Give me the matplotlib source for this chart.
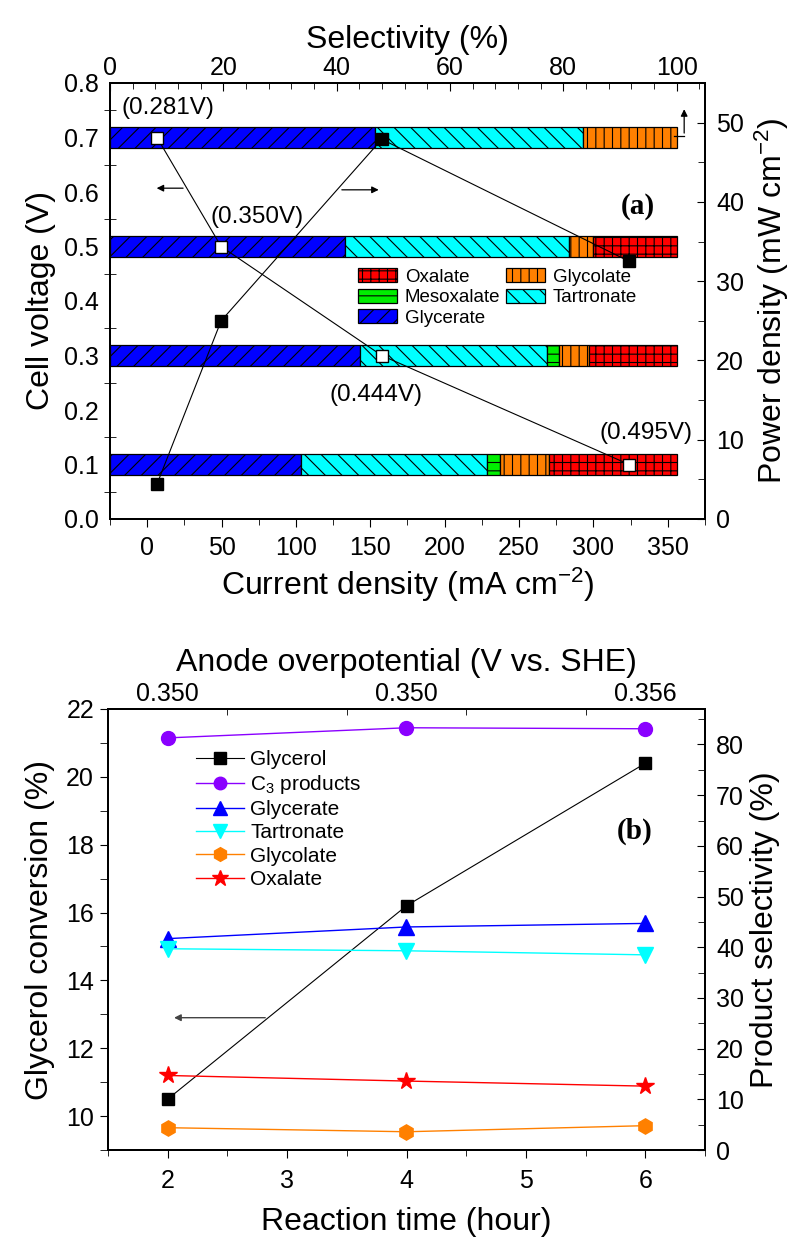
import matplotlib
matplotlib.use('Agg')
import matplotlib.pyplot as plt
import numpy as np
from matplotlib.ticker import MultipleLocator, FixedLocator
from matplotlib.lines import Line2D

plt.rcParams['font.family'] = ['Liberation Sans', 'DejaVu Sans']
plt.rcParams['mathtext.fontset'] = 'custom'
plt.rcParams['mathtext.rm'] = 'Liberation Sans'
plt.rcParams['mathtext.it'] = 'Liberation Sans:italic'
plt.rcParams['hatch.linewidth'] = 0.8
plt.rcParams['axes.linewidth'] = 1.3

# ---------------- panel (a) data ----------------
cell_voltage = [0.7, 0.5, 0.3, 0.1]
current_density = [6.6, 49.7, 157.7, 324]
power_density = [4.4, 25.0, 47.9, 32.5]
anode_potential = ['(0.281V)', '(0.350V)', '(0.444V)', '(0.495V)']

# selectivity (%) of each product at each cell voltage
sel_glycerate = [46.7, 41.4, 44.1, 33.7]
sel_tartronate = [36.8, 39.6, 33.1, 32.8]
sel_mesoxalate = [0.0, 0.0, 2.0, 2.4]
sel_glycolate = [16.5, 4.3, 5.3, 8.6]
sel_oxalate = [0.0, 14.7, 15.5, 22.5]

# ---------------- panel (b) data ----------------
reaction_time = [2, 4, 6]
overpotential_labels = ['0.350', '0.350', '0.356']
glycerol_conv = [10.5, 16.2, 20.4]
c3_products = [81.3, 83.3, 83.1]
glycerate = [41.7, 44.0, 44.7]
tartronate = [39.7, 39.3, 38.5]
glycolate = [4.4, 3.6, 4.8]
oxalate = [14.7, 13.6, 12.6]

fig = plt.figure(figsize=(7.98, 12.41), dpi=100)
W, H = 798.0, 1241.0

TICK = 18
LABEL = 23

# ================= panel (a) =================
ax1 = fig.add_axes([110 / W, 1 - 519 / H, 595 / W, 436 / H])
ax_sel = ax1.twiny()
ax_pow = ax1.twinx()
ax_sel.set_zorder(0)
ax1.set_zorder(1)
ax_pow.set_zorder(2)
ax1.patch.set_visible(False)

# stacked selectivity bars
segments = [
    ('Glycerate', sel_glycerate, '#0000ff', '//'),
    ('Tartronate', sel_tartronate, '#00ffff', '\\\\'),
    ('Mesoxalate', sel_mesoxalate, '#00ee00', '--'),
    ('Glycolate', sel_glycolate, '#ff8000', '||'),
    ('Oxalate', sel_oxalate, '#ff0000', '++'),
]
left = np.zeros(len(cell_voltage))
bar_handles = {}
for name, vals, col, hat in segments:
    vals = np.array(vals)
    keep = vals > 0
    b = ax_sel.barh(np.array(cell_voltage)[keep], vals[keep], left=left[keep],
                    height=0.04, color=col, edgecolor='black', hatch=hat,
                    linewidth=0.9, label=name)
    bar_handles[name] = b
    left = left + vals
ax_sel.set_xlim(0, 105)
ax_sel.set_xticks(range(0, 101, 20))
ax_sel.xaxis.set_minor_locator(MultipleLocator(4))
ax_sel.set_xlabel('Selectivity (%)', fontsize=LABEL, labelpad=6)
ax_sel.tick_params(axis='x', which='both', direction='in', labelsize=TICK, pad=2)
ax_sel.tick_params(axis='x', which='major', length=6)
ax_sel.tick_params(axis='x', which='minor', length=4)

# cell voltage vs current density
ax1.plot(current_density, cell_voltage, color='black', lw=0.8, marker='s', ms=8,
         mfc='white', mec='black', mew=1.0, zorder=5)
ax1.set_xlim(-25, 375)
ax1.set_ylim(0, 0.8)
ax1.set_xticks(range(0, 351, 50))
ax1.xaxis.set_minor_locator(MultipleLocator(25))
ax1.set_yticks(np.arange(0, 0.81, 0.1))
ax1.set_yticklabels(['%.1f' % v for v in np.arange(0, 0.81, 0.1)])
ax1.yaxis.set_minor_locator(FixedLocator(np.arange(0.05, 0.8, 0.1)))
ax1.tick_params(axis='x', which='both', direction='out', labelsize=TICK, pad=6)
ax1.tick_params(axis='x', which='major', length=6)
ax1.tick_params(axis='x', which='minor', length=4)
ax1.tick_params(axis='y', which='major', length=0, labelsize=TICK, pad=8)
ax1.tick_params(axis='y', which='minor', direction='inout', length=8)
ax1.set_xlabel('Current density (mA cm$^{-2}$)', fontsize=LABEL, labelpad=4)
ax1.set_ylabel('Cell voltage (V)', fontsize=LABEL, labelpad=6)

# power density
ax_pow.plot(current_density, power_density, color='black', lw=0.8, marker='s', ms=8,
            mfc='black', mec='black', zorder=5)
ax_pow.set_ylim(0, 55)
ax_pow.set_yticks(range(0, 51, 10))
ax_pow.yaxis.set_minor_locator(MultipleLocator(5))
ax_pow.tick_params(axis='y', which='both', direction='in', labelsize=TICK, pad=8)
ax_pow.tick_params(axis='y', which='major', length=6)
ax_pow.tick_params(axis='y', which='minor', length=5)
ax_pow.set_ylabel('Power density (mW cm$^{-2}$)', fontsize=LABEL, labelpad=6)

# anode potential annotations
txt_pos = [(14.0, 0.755), (74.0, 0.555), (154.0, 0.228), (335.5, 0.158)]
for lab, (tx, ty) in zip(anode_potential, txt_pos):
    ax1.text(tx, ty, lab, fontsize=17.5, ha='center', va='center', zorder=6)
ax1.text(330, 0.573, '(a)', fontsize=21, fontweight='bold', family='Liberation Serif',
         ha='center', va='center')

# axis arrows
arr = dict(arrowstyle='-|>', color='black', lw=0.9, mutation_scale=10)
ax1.annotate('', xy=(4.5, 0.607), xytext=(26, 0.607), arrowprops=arr)
ax1.annotate('', xy=(157.5, 0.604), xytext=(129, 0.604), arrowprops=arr)
ax1.plot([354, 361], [0.703, 0.703], color='black', lw=0.9)
ax1.annotate('', xy=(361, 0.757), xytext=(361, 0.703), arrowprops=arr)

order = ['Oxalate', 'Mesoxalate', 'Glycerate', 'Glycolate', 'Tartronate']
fig.legend([bar_handles[k] for k in order], order, loc='upper left',
           bbox_to_anchor=(358 / W, 1 - 268 / H), ncol=2, frameon=False,
           fontsize=13.5, handlelength=2.1, handleheight=0.8, handletextpad=0.4,
           columnspacing=0.3, labelspacing=0.15, borderpad=0, borderaxespad=0)

# ================= panel (b) =================
ax2 = fig.add_axes([108 / W, 1 - 1150 / H, 597 / W, 441 / H])
ax2r = ax2.twinx()
ax2t = ax2.twiny()

ax2.plot(reaction_time, glycerol_conv, color='black', lw=0.8, marker='s', ms=9,
         mfc='black', mec='black', label='Glycerol', zorder=4)
ax2.set_xlim(1.5, 6.5)
ax2.set_ylim(9, 22)
ax2.set_xticks(range(2, 7))
ax2.xaxis.set_minor_locator(MultipleLocator(0.5))
ax2.set_yticks(range(10, 23, 2))
ax2.yaxis.set_minor_locator(MultipleLocator(1))
ax2.tick_params(axis='both', which='both', direction='out', labelsize=TICK)
ax2.tick_params(axis='x', which='major', length=6, pad=8)
ax2.tick_params(axis='x', which='minor', length=4)
ax2.tick_params(axis='y', which='major', length=6, pad=4)
ax2.tick_params(axis='y', which='minor', length=6)
ax2.set_xlabel('Reaction time (hour)', fontsize=LABEL, labelpad=10)
ax2.set_ylabel('Glycerol conversion (%)', fontsize=LABEL, labelpad=8)

series = [
    ('C$_3$ products', c3_products, '#8a00ff', 'o', 10),
    ('Glycerate', glycerate, '#0000ff', '^', 11),
    ('Tartronate', tartronate, '#00ffff', 'v', 11),
    ('Glycolate', glycolate, '#ff8000', 'h', 11),
    ('Oxalate', oxalate, '#ff0000', '*', 13),
]
lines_b = []
for name, vals, col, mk, ms in series:
    ln, = ax2r.plot(reaction_time, vals, color=col, lw=1.0, marker=mk, ms=ms,
                    mfc=col, mec=col, label=name)
    lines_b.append(ln)
ax2r.set_ylim(0, 87)
ax2r.set_yticks(range(0, 81, 10))
ax2r.yaxis.set_minor_locator(MultipleLocator(5))
ax2r.tick_params(axis='y', which='both', direction='in', labelsize=TICK, pad=8)
ax2r.tick_params(axis='y', which='major', length=6)
ax2r.tick_params(axis='y', which='minor', length=5)
ax2r.set_ylabel('Product selectivity (%)', fontsize=LABEL, labelpad=4)

ax2t.set_xlim(1.5, 6.5)
ax2t.set_xticks(reaction_time)
ax2t.set_xticklabels(overpotential_labels)
ax2t.xaxis.set_minor_locator(FixedLocator([2.5, 3.5, 4.5, 5.5]))
ax2t.tick_params(axis='x', which='major', length=0, labelsize=TICK, pad=2)
ax2t.tick_params(axis='x', which='minor', direction='in', length=4)
ax2t.set_xlabel('Anode overpotential (V vs. SHE)', fontsize=LABEL, labelpad=8)

ax2.annotate('', xy=(2.03, 12.9), xytext=(2.84, 12.9),
             arrowprops=dict(arrowstyle='-|>', color='#444444', lw=1.0, mutation_scale=10))
ax2.text(5.91, 18.4, '(b)', fontsize=21, fontweight='bold', family='Liberation Serif',
         ha='center', va='center')

glyc_handle = ax2.get_lines()[0]
fig.legend([glyc_handle] + lines_b, ['Glycerol'] + [s[0] for s in series],
           loc='upper left', bbox_to_anchor=(196 / W, 1 - 750 / H), frameon=False,
           fontsize=15, handlelength=2.3, handletextpad=0.3, labelspacing=0.2,
           borderpad=0, borderaxespad=0, markerscale=0.9)

fig.savefig('out.png', dpi=100)
